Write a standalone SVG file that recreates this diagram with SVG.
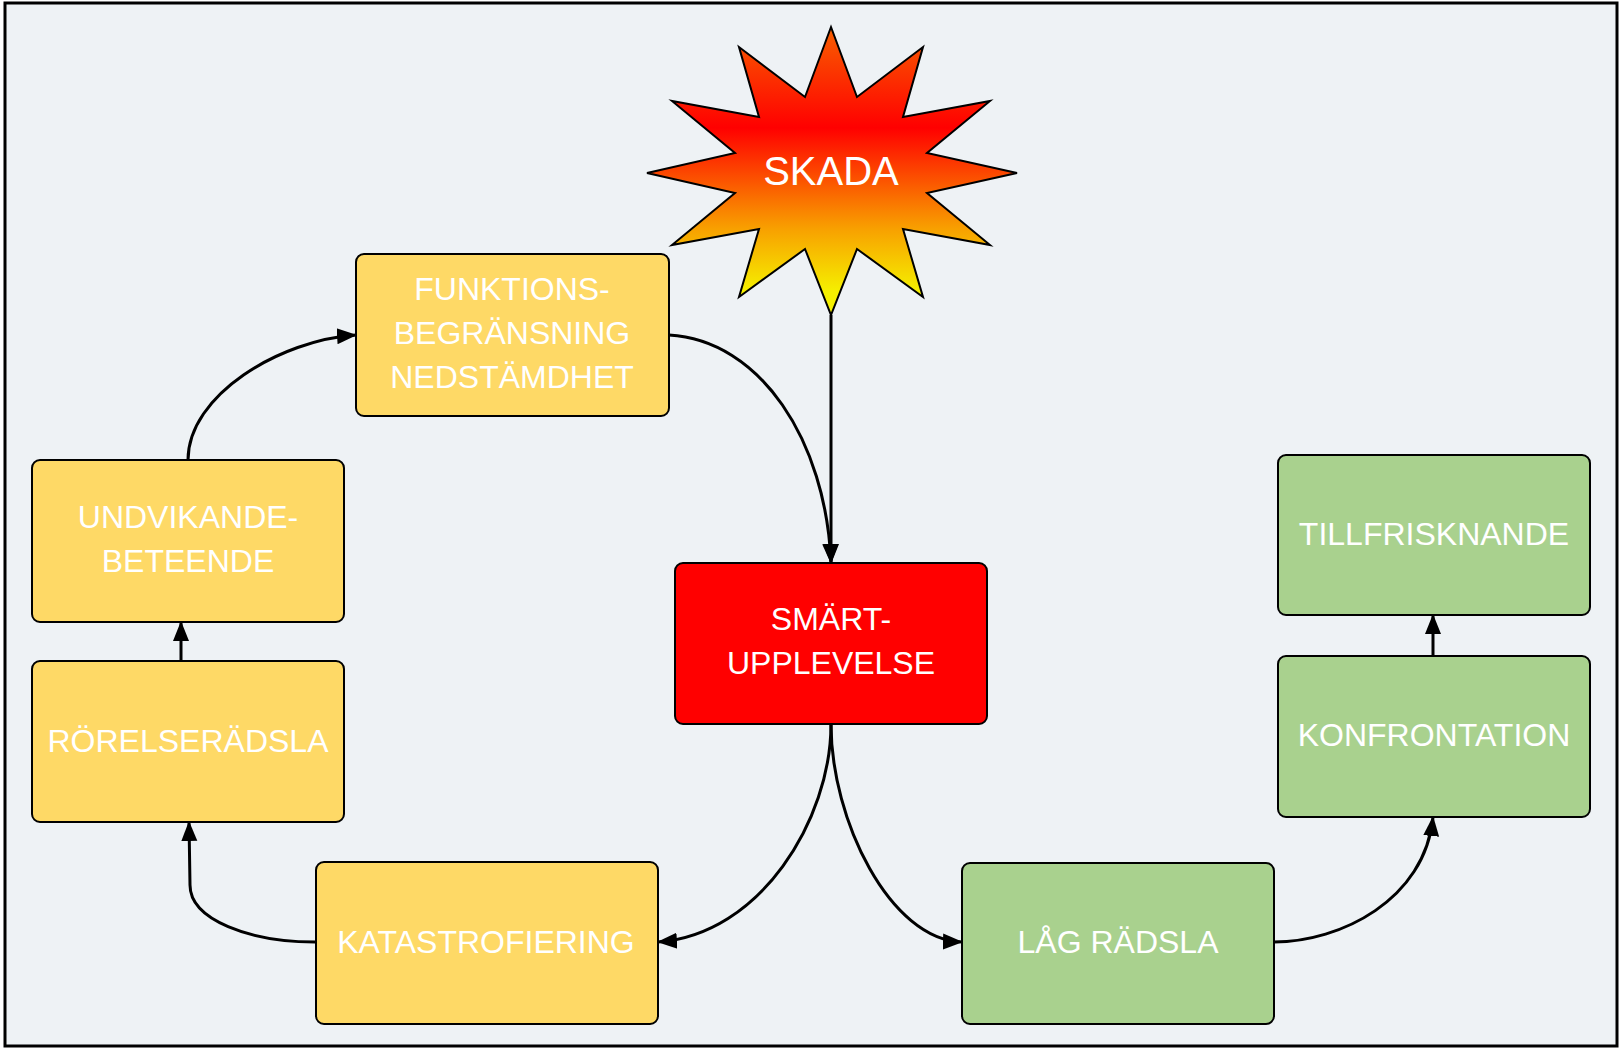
<svg xmlns="http://www.w3.org/2000/svg" width="1622" height="1048" viewBox="0 0 1622 1048">
<defs>
<linearGradient id="burst" x1="0" y1="0" x2="0" y2="1">
<stop offset="0" stop-color="#f86000"/>
<stop offset="0.35" stop-color="#ff0000"/>
<stop offset="0.7" stop-color="#f8a000"/>
<stop offset="0.92" stop-color="#f5f000"/>
</linearGradient>
<marker id="ah" markerUnits="userSpaceOnUse" markerWidth="20" markerHeight="20" viewBox="0 0 20 20" refX="19" refY="10" orient="auto">
<path d="M0,2 L20,10 L0,18 Z" fill="#000"/>
</marker>
<style>
.box{stroke:#000;stroke-width:2}
.y{fill:#fed966}.g{fill:#a9d18e}.r{fill:#ff0000}
.t{font-family:"Liberation Sans",Arial,sans-serif;font-size:32px;fill:#fff;text-anchor:middle}
.c{fill:none;stroke:#000;stroke-width:3;marker-end:url(#ah)}
</style>
</defs>
<rect x="5" y="3" width="1612" height="1043" fill="#eef2f5" stroke="#000" stroke-width="3"/>
<g id="connectors">
<path class="c" d="M831,315 L831,563"/>
<path class="c" d="M669,335 C760,340 826,440 831,563"/>
<path class="c" d="M831,724 C831,820 760,935 658,942"/>
<path class="c" d="M831,724 C831,820 890,940 962,942"/>
<path class="c" d="M1274,942 C1340,942 1425,900 1433,817"/>
<path class="c" d="M1433,656 L1433,615"/>
<path class="c" d="M315,942 C250,942 190,920 190,885 L189,822"/>
<path class="c" d="M181,661 L181,622"/>
<path class="c" d="M188,460 C188,395 280,340 356,335"/>
</g>
<g id="skada">
<polygon fill="url(#burst)" stroke="#000" stroke-width="2" points="831,27 857,97 923,47 903,117 990,101 927,153 1017,173 927,193 990,245 903,229 923,297 857,249 831,315 805,249 739,297 759,229 672,245 735,193 647,173 735,153 672,101 759,117 739,47 805,97"/>
<text class="t" x="831" y="185" style="font-size:40px">SKADA</text>
</g>
<g id="funktions">
<rect class="box y" x="356" y="254" width="313" height="162" rx="8"/>
<text class="t" x="512" y="300">FUNKTIONS-</text>
<text class="t" x="512" y="344">BEGRÄNSNING</text>
<text class="t" x="512" y="388">NEDSTÄMDHET</text>
</g>
<g id="undvikande">
<rect class="box y" x="32" y="460" width="312" height="162" rx="8"/>
<text class="t" x="188" y="528">UNDVIKANDE-</text>
<text class="t" x="188" y="572">BETEENDE</text>
</g>
<g id="rorelse">
<rect class="box y" x="32" y="661" width="312" height="161" rx="8"/>
<text class="t" x="188" y="752">RÖRELSERÄDSLA</text>
</g>
<g id="katastrof">
<rect class="box y" x="316" y="862" width="342" height="162" rx="8"/>
<text class="t" x="486" y="953">KATASTROFIERING</text>
</g>
<g id="smart">
<rect class="box r" x="675" y="563" width="312" height="161" rx="8"/>
<text class="t" x="831" y="630">SMÄRT-</text>
<text class="t" x="831" y="674">UPPLEVELSE</text>
</g>
<g id="lag">
<rect class="box g" x="962" y="863" width="312" height="161" rx="8"/>
<text class="t" x="1118" y="953">LÅG RÄDSLA</text>
</g>
<g id="konfrontation">
<rect class="box g" x="1278" y="656" width="312" height="161" rx="8"/>
<text class="t" x="1434" y="746">KONFRONTATION</text>
</g>
<g id="tillfrisk">
<rect class="box g" x="1278" y="455" width="312" height="160" rx="8"/>
<text class="t" x="1434" y="545">TILLFRISKNANDE</text>
</g>
</svg>
